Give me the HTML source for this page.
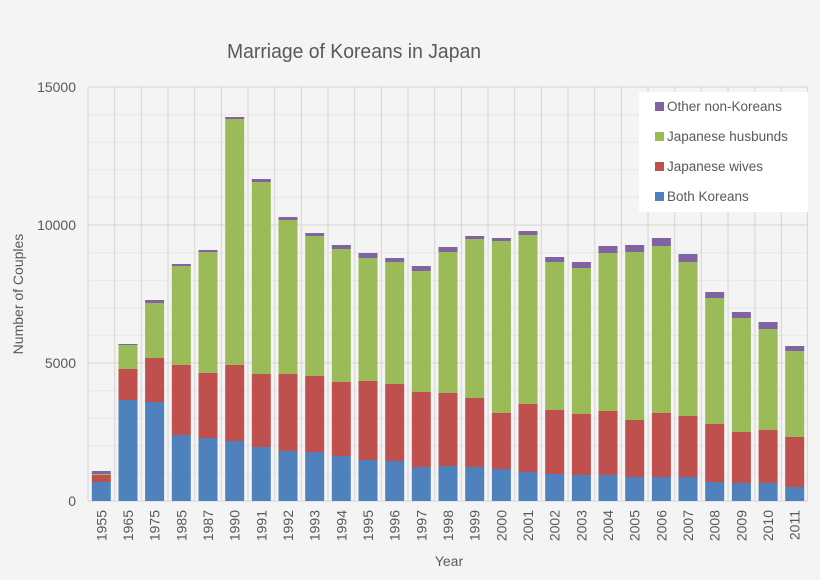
<!DOCTYPE html>
<html><head><meta charset="utf-8"><style>
html,body{margin:0;padding:0;background:#f4f4f4;}
svg{display:block;font-family:"Liberation Sans",sans-serif;}
</style></head><body>
<svg width="820" height="580" viewBox="0 0 820 580" xmlns="http://www.w3.org/2000/svg">
<rect width="820" height="580" fill="#f4f4f4"/>
<text x="354" y="58" text-anchor="middle" font-size="20" fill="#595959" textLength="254" lengthAdjust="spacingAndGlyphs">Marriage of Koreans in Japan</text>
<g stroke="#e8e8e8" stroke-width="1">
<line x1="88" x2="808" y1="114.6" y2="114.6"/><line x1="88" x2="808" y1="142.2" y2="142.2"/><line x1="88" x2="808" y1="169.8" y2="169.8"/><line x1="88" x2="808" y1="197.4" y2="197.4"/>
<line x1="88" x2="808" y1="252.6" y2="252.6"/><line x1="88" x2="808" y1="280.2" y2="280.2"/><line x1="88" x2="808" y1="307.8" y2="307.8"/><line x1="88" x2="808" y1="335.4" y2="335.4"/>
<line x1="88" x2="808" y1="390.6" y2="390.6"/><line x1="88" x2="808" y1="418.2" y2="418.2"/><line x1="88" x2="808" y1="445.8" y2="445.8"/><line x1="88" x2="808" y1="473.4" y2="473.4"/>
</g>
<g stroke="#d9d9d9" stroke-width="1.2">
<line x1="88" x2="808" y1="87" y2="87"/><line x1="88" x2="808" y1="225" y2="225"/><line x1="88" x2="808" y1="363" y2="363"/><line x1="88" x2="808" y1="501" y2="501"/>
<line x1="88.0" x2="88.0" y1="87" y2="501"/><line x1="114.7" x2="114.7" y1="87" y2="501"/><line x1="141.3" x2="141.3" y1="87" y2="501"/><line x1="168.0" x2="168.0" y1="87" y2="501"/><line x1="194.7" x2="194.7" y1="87" y2="501"/><line x1="221.4" x2="221.4" y1="87" y2="501"/><line x1="248.0" x2="248.0" y1="87" y2="501"/><line x1="274.7" x2="274.7" y1="87" y2="501"/><line x1="301.4" x2="301.4" y1="87" y2="501"/><line x1="328.0" x2="328.0" y1="87" y2="501"/><line x1="354.7" x2="354.7" y1="87" y2="501"/><line x1="381.4" x2="381.4" y1="87" y2="501"/><line x1="408.0" x2="408.0" y1="87" y2="501"/><line x1="434.7" x2="434.7" y1="87" y2="501"/><line x1="461.4" x2="461.4" y1="87" y2="501"/><line x1="488.1" x2="488.1" y1="87" y2="501"/><line x1="514.7" x2="514.7" y1="87" y2="501"/><line x1="541.4" x2="541.4" y1="87" y2="501"/><line x1="568.1" x2="568.1" y1="87" y2="501"/><line x1="594.7" x2="594.7" y1="87" y2="501"/><line x1="621.4" x2="621.4" y1="87" y2="501"/><line x1="648.1" x2="648.1" y1="87" y2="501"/><line x1="674.7" x2="674.7" y1="87" y2="501"/><line x1="701.4" x2="701.4" y1="87" y2="501"/><line x1="728.1" x2="728.1" y1="87" y2="501"/><line x1="754.8" x2="754.8" y1="87" y2="501"/><line x1="781.4" x2="781.4" y1="87" y2="501"/><line x1="807.5" x2="807.5" y1="87" y2="501"/>
</g>
<g font-size="14" fill="#595959" text-anchor="end">
<text x="76" y="92">15000</text><text x="76" y="230">10000</text><text x="76" y="368">5000</text><text x="76" y="506">0</text>
</g>
<text transform="translate(23,294) rotate(-90)" text-anchor="middle" font-size="14" fill="#595959">Number of Couples</text>
<text x="449" y="566" text-anchor="middle" font-size="14" fill="#595959">Year</text>
<g>
<g transform="translate(91.8,0)"><rect y="471" width="19" height="3" fill="#8064a2"/><rect y="474" width="19" height="1" fill="#9bbb59"/><rect y="475" width="19" height="7" fill="#c0504d"/><rect y="482" width="19" height="19" fill="#4f81bd"/></g>
<g transform="translate(118.5,0)"><rect y="344" width="19" height="1" fill="#8064a2"/><rect y="345" width="19" height="24" fill="#9bbb59"/><rect y="369" width="19" height="31" fill="#c0504d"/><rect y="400" width="19" height="101" fill="#4f81bd"/></g>
<g transform="translate(145.1,0)"><rect y="300" width="19" height="3" fill="#8064a2"/><rect y="303" width="19" height="55" fill="#9bbb59"/><rect y="358" width="19" height="44" fill="#c0504d"/><rect y="402" width="19" height="99" fill="#4f81bd"/></g>
<g transform="translate(171.8,0)"><rect y="264" width="19" height="2" fill="#8064a2"/><rect y="266" width="19" height="99" fill="#9bbb59"/><rect y="365" width="19" height="70" fill="#c0504d"/><rect y="435" width="19" height="66" fill="#4f81bd"/></g>
<g transform="translate(198.5,0)"><rect y="250" width="19" height="2" fill="#8064a2"/><rect y="252" width="19" height="121" fill="#9bbb59"/><rect y="373" width="19" height="65" fill="#c0504d"/><rect y="438" width="19" height="63" fill="#4f81bd"/></g>
<g transform="translate(225.2,0)"><rect y="117" width="19" height="2" fill="#8064a2"/><rect y="119" width="19" height="246" fill="#9bbb59"/><rect y="365" width="19" height="76" fill="#c0504d"/><rect y="441" width="19" height="60" fill="#4f81bd"/></g>
<g transform="translate(251.8,0)"><rect y="179" width="19" height="3" fill="#8064a2"/><rect y="182" width="19" height="192" fill="#9bbb59"/><rect y="374" width="19" height="73" fill="#c0504d"/><rect y="447" width="19" height="54" fill="#4f81bd"/></g>
<g transform="translate(278.5,0)"><rect y="217" width="19" height="3" fill="#8064a2"/><rect y="220" width="19" height="154" fill="#9bbb59"/><rect y="374" width="19" height="77" fill="#c0504d"/><rect y="451" width="19" height="50" fill="#4f81bd"/></g>
<g transform="translate(305.2,0)"><rect y="233" width="19" height="3" fill="#8064a2"/><rect y="236" width="19" height="140" fill="#9bbb59"/><rect y="376" width="19" height="76" fill="#c0504d"/><rect y="452" width="19" height="49" fill="#4f81bd"/></g>
<g transform="translate(331.8,0)"><rect y="245" width="19" height="4" fill="#8064a2"/><rect y="249" width="19" height="133" fill="#9bbb59"/><rect y="382" width="19" height="74" fill="#c0504d"/><rect y="456" width="19" height="45" fill="#4f81bd"/></g>
<g transform="translate(358.5,0)"><rect y="253" width="19" height="5" fill="#8064a2"/><rect y="258" width="19" height="123" fill="#9bbb59"/><rect y="381" width="19" height="79" fill="#c0504d"/><rect y="460" width="19" height="41" fill="#4f81bd"/></g>
<g transform="translate(385.2,0)"><rect y="258" width="19" height="4" fill="#8064a2"/><rect y="262" width="19" height="122" fill="#9bbb59"/><rect y="384" width="19" height="77" fill="#c0504d"/><rect y="461" width="19" height="40" fill="#4f81bd"/></g>
<g transform="translate(411.8,0)"><rect y="266" width="19" height="5" fill="#8064a2"/><rect y="271" width="19" height="121" fill="#9bbb59"/><rect y="392" width="19" height="75" fill="#c0504d"/><rect y="467" width="19" height="34" fill="#4f81bd"/></g>
<g transform="translate(438.5,0)"><rect y="247" width="19" height="5" fill="#8064a2"/><rect y="252" width="19" height="141" fill="#9bbb59"/><rect y="393" width="19" height="73" fill="#c0504d"/><rect y="466" width="19" height="35" fill="#4f81bd"/></g>
<g transform="translate(465.2,0)"><rect y="236" width="19" height="3" fill="#8064a2"/><rect y="239" width="19" height="159" fill="#9bbb59"/><rect y="398" width="19" height="69" fill="#c0504d"/><rect y="467" width="19" height="34" fill="#4f81bd"/></g>
<g transform="translate(491.9,0)"><rect y="238" width="19" height="3" fill="#8064a2"/><rect y="241" width="19" height="172" fill="#9bbb59"/><rect y="413" width="19" height="56" fill="#c0504d"/><rect y="469" width="19" height="32" fill="#4f81bd"/></g>
<g transform="translate(518.5,0)"><rect y="231" width="19" height="4" fill="#8064a2"/><rect y="235" width="19" height="169" fill="#9bbb59"/><rect y="404" width="19" height="68" fill="#c0504d"/><rect y="472" width="19" height="29" fill="#4f81bd"/></g>
<g transform="translate(545.2,0)"><rect y="257" width="19" height="5" fill="#8064a2"/><rect y="262" width="19" height="148" fill="#9bbb59"/><rect y="410" width="19" height="64" fill="#c0504d"/><rect y="474" width="19" height="27" fill="#4f81bd"/></g>
<g transform="translate(571.9,0)"><rect y="262" width="19" height="6" fill="#8064a2"/><rect y="268" width="19" height="146" fill="#9bbb59"/><rect y="414" width="19" height="61" fill="#c0504d"/><rect y="475" width="19" height="26" fill="#4f81bd"/></g>
<g transform="translate(598.5,0)"><rect y="246" width="19" height="7" fill="#8064a2"/><rect y="253" width="19" height="158" fill="#9bbb59"/><rect y="411" width="19" height="64" fill="#c0504d"/><rect y="475" width="19" height="26" fill="#4f81bd"/></g>
<g transform="translate(625.2,0)"><rect y="245" width="19" height="7" fill="#8064a2"/><rect y="252" width="19" height="168" fill="#9bbb59"/><rect y="420" width="19" height="57" fill="#c0504d"/><rect y="477" width="19" height="24" fill="#4f81bd"/></g>
<g transform="translate(651.9,0)"><rect y="238" width="19" height="8" fill="#8064a2"/><rect y="246" width="19" height="167" fill="#9bbb59"/><rect y="413" width="19" height="64" fill="#c0504d"/><rect y="477" width="19" height="24" fill="#4f81bd"/></g>
<g transform="translate(678.5,0)"><rect y="254" width="19" height="8" fill="#8064a2"/><rect y="262" width="19" height="154" fill="#9bbb59"/><rect y="416" width="19" height="61" fill="#c0504d"/><rect y="477" width="19" height="24" fill="#4f81bd"/></g>
<g transform="translate(705.2,0)"><rect y="292" width="19" height="6" fill="#8064a2"/><rect y="298" width="19" height="126" fill="#9bbb59"/><rect y="424" width="19" height="58" fill="#c0504d"/><rect y="482" width="19" height="19" fill="#4f81bd"/></g>
<g transform="translate(731.9,0)"><rect y="312" width="19" height="6" fill="#8064a2"/><rect y="318" width="19" height="114" fill="#9bbb59"/><rect y="432" width="19" height="51" fill="#c0504d"/><rect y="483" width="19" height="18" fill="#4f81bd"/></g>
<g transform="translate(758.6,0)"><rect y="322" width="19" height="7" fill="#8064a2"/><rect y="329" width="19" height="101" fill="#9bbb59"/><rect y="430" width="19" height="53" fill="#c0504d"/><rect y="483" width="19" height="18" fill="#4f81bd"/></g>
<g transform="translate(785.2,0)"><rect y="346" width="19" height="5" fill="#8064a2"/><rect y="351" width="19" height="86" fill="#9bbb59"/><rect y="437" width="19" height="50" fill="#c0504d"/><rect y="487" width="19" height="14" fill="#4f81bd"/></g>
</g>
<g font-size="14" fill="#595959" text-anchor="end">
<text transform="translate(106.3,510) rotate(-90)">1955</text>
<text transform="translate(133.0,510) rotate(-90)">1965</text>
<text transform="translate(159.6,510) rotate(-90)">1975</text>
<text transform="translate(186.3,510) rotate(-90)">1985</text>
<text transform="translate(213.0,510) rotate(-90)">1987</text>
<text transform="translate(239.7,510) rotate(-90)">1990</text>
<text transform="translate(266.3,510) rotate(-90)">1991</text>
<text transform="translate(293.0,510) rotate(-90)">1992</text>
<text transform="translate(319.7,510) rotate(-90)">1993</text>
<text transform="translate(346.3,510) rotate(-90)">1994</text>
<text transform="translate(373.0,510) rotate(-90)">1995</text>
<text transform="translate(399.7,510) rotate(-90)">1996</text>
<text transform="translate(426.3,510) rotate(-90)">1997</text>
<text transform="translate(453.0,510) rotate(-90)">1998</text>
<text transform="translate(479.7,510) rotate(-90)">1999</text>
<text transform="translate(506.4,510) rotate(-90)">2000</text>
<text transform="translate(533.0,510) rotate(-90)">2001</text>
<text transform="translate(559.7,510) rotate(-90)">2002</text>
<text transform="translate(586.4,510) rotate(-90)">2003</text>
<text transform="translate(613.0,510) rotate(-90)">2004</text>
<text transform="translate(639.7,510) rotate(-90)">2005</text>
<text transform="translate(666.4,510) rotate(-90)">2006</text>
<text transform="translate(693.0,510) rotate(-90)">2007</text>
<text transform="translate(719.7,510) rotate(-90)">2008</text>
<text transform="translate(746.4,510) rotate(-90)">2009</text>
<text transform="translate(773.1,510) rotate(-90)">2010</text>
<text transform="translate(799.7,510) rotate(-90)">2011</text>
</g>
<rect x="639" y="92" width="169" height="120" fill="#ffffff"/>
<g font-size="13.5" fill="#595959">
<rect x="655" y="102" width="9" height="9" fill="#8064a2"/><text x="667" y="111">Other non-Koreans</text>
<rect x="655" y="132" width="9" height="9" fill="#9bbb59"/><text x="667" y="141">Japanese husbunds</text>
<rect x="655" y="162" width="9" height="9" fill="#c0504d"/><text x="667" y="171">Japanese wives</text>
<rect x="655" y="192" width="9" height="9" fill="#4f81bd"/><text x="667" y="201">Both Koreans</text>
</g>
</svg>
</body></html>
